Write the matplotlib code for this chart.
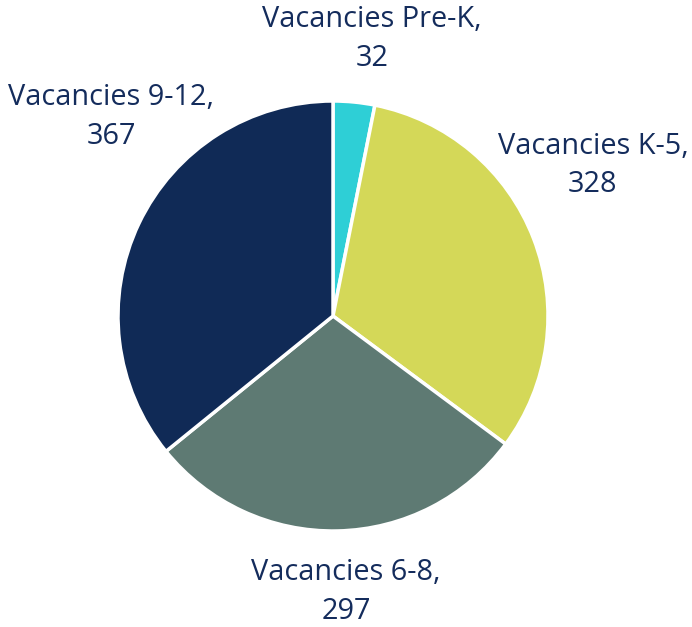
import matplotlib.pyplot as plt

labels = ["Vacancies Pre-K", "Vacancies K-5", "Vacancies 6-8", "Vacancies 9-12"]
values = [32, 328, 297, 367]
colors = ["#2ECFD6", "#D4D858", "#5E7A73", "#102A56"]

# label anchor positions (pie radius = 1)
label_pos = [(0.181, 1.29), (1.209, 0.70), (0.060, -1.285), (-1.032, 0.925)]

plt.rcParams["font.family"] = ["Open Sans", "DejaVu Sans"]

fig = plt.figure(figsize=(6.92, 6.27), dpi=100)
cx, cy, r = 333, 316, 215
ax = fig.add_axes([(cx - r) / 692, (627 - cy - r) / 627, 2 * r / 692, 2 * r / 627])

ax.pie(values, colors=colors, startangle=90, counterclock=False, radius=1,
       wedgeprops=dict(edgecolor="white", linewidth=2.5))

for lab, val, (x, y) in zip(labels, values, label_pos):
    ax.text(x, y, f"{lab},\n{val}", ha="center", va="center", fontsize=20.8,
            color="#142C5C", linespacing=1.45, clip_on=False)

ax.set_xlim(-1, 1)
ax.set_ylim(-1, 1)
ax.set_aspect("equal")
ax.axis("off")

fig.savefig("out.png", dpi=100)
